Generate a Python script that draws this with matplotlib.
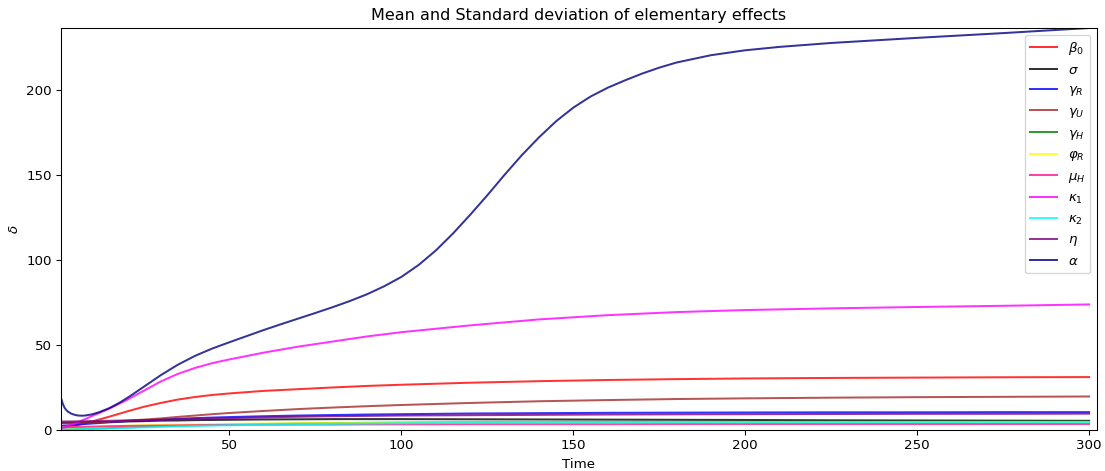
import matplotlib
matplotlib.use("Agg")
import matplotlib.pyplot as plt

# sample times for the slowly varying effects
time = [1, 3, 6, 10, 15, 20, 25, 30, 35, 40, 45, 50, 60, 70, 80, 90, 100,
        120, 140, 160, 180, 200, 225, 250, 275, 300]

beta0 = [0.5, 1.5, 3.0, 5.0, 7.8, 10.8, 13.6, 15.9, 17.9, 19.4, 20.6, 21.5, 23.0, 24.0,
         25.0, 25.9, 26.6, 27.8, 28.7, 29.4, 29.9, 30.3, 30.6, 30.8, 31.0, 31.1]
sigma = [4.2, 4.3, 4.4, 4.5, 4.7, 5.0, 5.2, 5.5, 5.6, 5.8, 5.9, 6.0, 6.2, 6.3,
         6.4, 6.4, 6.4, 6.3, 6.2, 6.1, 6.0, 5.9, 5.7, 5.6, 5.5, 5.4]
gamma_r = [2.5, 2.7, 3.2, 3.8, 4.5, 5.2, 5.7, 6.2, 6.6, 7.0, 7.3, 7.6, 8.1, 8.5,
           8.8, 9.1, 9.3, 9.7, 9.9, 10.1, 10.2, 10.3, 10.4, 10.4, 10.5, 10.5]
gamma_u = [4.0, 4.0, 4.0, 4.3, 4.8, 5.5, 6.1, 6.8, 7.7, 8.5, 9.3, 10.0, 11.2, 12.3,
           13.2, 14.0, 14.7, 15.9, 16.9, 17.6, 18.2, 18.6, 19.0, 19.3, 19.5, 19.7]
gamma_h = [0.3, 0.4, 0.6, 0.8, 1.1, 1.5, 1.9, 2.2, 2.5, 2.8, 3.0, 3.2, 3.5, 3.8,
           4.0, 4.2, 4.3, 4.5, 4.6, 4.7, 4.7, 4.8, 4.9, 4.9, 5.0, 5.0]
phi_r = [1.0, 1.2, 1.5, 1.8, 2.2, 2.5, 2.8, 3.0, 3.2, 3.3, 3.5, 3.6, 3.8, 3.9,
         4.0, 4.1, 4.2, 4.3, 4.4, 4.4, 4.5, 4.5, 4.5, 4.6, 4.6, 4.6]
mu_h = [1.5, 1.6, 1.8, 2.0, 2.2, 2.4, 2.5, 2.6, 2.7, 2.8, 2.9, 3.0, 3.1, 3.2,
        3.2, 3.3, 3.3, 3.4, 3.4, 3.4, 3.5, 3.5, 3.5, 3.5, 3.5, 3.5]
kappa1 = [0.5, 2.3, 4.6, 8.2, 12.5, 17.5, 23.0, 28.5, 33.0, 36.5, 39.3, 41.5, 45.5, 49.0,
          52.0, 55.0, 57.5, 61.5, 65.0, 67.5, 69.3, 70.5, 71.5, 72.3, 73.0, 73.8]
kappa2 = [0.2, 0.3, 0.45, 0.6, 0.9, 1.2, 1.5, 1.8, 2.1, 2.3, 2.6, 2.8, 3.1, 3.4,
          3.6, 3.8, 4.0, 4.2, 4.4, 4.5, 4.5, 4.6, 4.6, 4.7, 4.7, 4.7]
eta = [5.0, 5.0, 5.1, 5.2, 5.4, 5.6, 5.8, 6.0, 6.3, 6.5, 6.8, 7.0, 7.4, 7.8,
       8.1, 8.3, 8.5, 8.7, 8.9, 9.1, 9.2, 9.3, 9.4, 9.5, 9.5, 9.6]

# alpha changes quickly, so it is sampled more densely
time_alpha = [1, 1.5, 2, 2.5, 3, 4, 5, 6, 7, 8, 10, 12, 15, 18, 21, 25, 30, 35, 40, 45,
              50, 55, 60, 65, 70, 75, 80, 85, 90, 95, 100, 105, 110, 115, 120, 125, 130,
              135, 140, 145, 150, 155, 160, 165, 170, 175, 180, 190, 200, 210, 225, 250,
              275, 300]
alpha = [18.8, 15.5, 13.2, 11.8, 10.8, 9.6, 8.9, 8.5, 8.4, 8.5, 9.2, 10.4, 12.8, 16.0,
         19.8, 25.3, 32.2, 38.4, 43.6, 47.9, 51.6, 55.2, 58.8, 62.2, 65.5, 68.8, 72.2,
         75.8, 79.8, 84.5, 90.0, 97.0, 105.5, 115.5, 126.5, 138.0, 150.0, 161.5, 172.0,
         181.5, 189.5, 196.0, 201.2, 205.5, 209.5, 213.0, 216.0, 220.3, 223.2, 225.2,
         227.5, 230.5, 233.3, 236.3]

series = [beta0, sigma, gamma_r, gamma_u, gamma_h, phi_r, mu_h, kappa1, kappa2, eta]
labels = [r'$\beta_0$', r'$\sigma$', r'$\gamma_R$', r'$\gamma_U$', r'$\gamma_H$',
          r'$\varphi_R$', r'$\mu_H$', r'$\kappa_1$', r'$\kappa_2$', r'$\eta$', r'$\alpha$']
colors = ['red', 'black', 'blue', 'brown', 'green', 'yellow', 'deeppink',
          'magenta', 'cyan', 'purple', 'navy']

fig = plt.figure(figsize=(1105 / 96, 471 / 96), dpi=96)
ax = fig.add_axes([61 / 1105, 41 / 471, 1036 / 1105, 402 / 471])

for values, label, color in zip(series, labels, colors):
    ax.plot(time, values, color=color, alpha=0.8, label=label)
ax.plot(time_alpha, alpha, color=colors[-1], alpha=0.8, label=labels[-1])

ax.set_xlim(1, 302.3)
ax.set_ylim(0, max(alpha))
ax.set_xlabel("Time")
ax.set_ylabel(r'$\delta$')
ax.set_title("Mean and Standard deviation of elementary effects")
ax.legend(loc="upper right")

fig.savefig("out.png", dpi=96)
